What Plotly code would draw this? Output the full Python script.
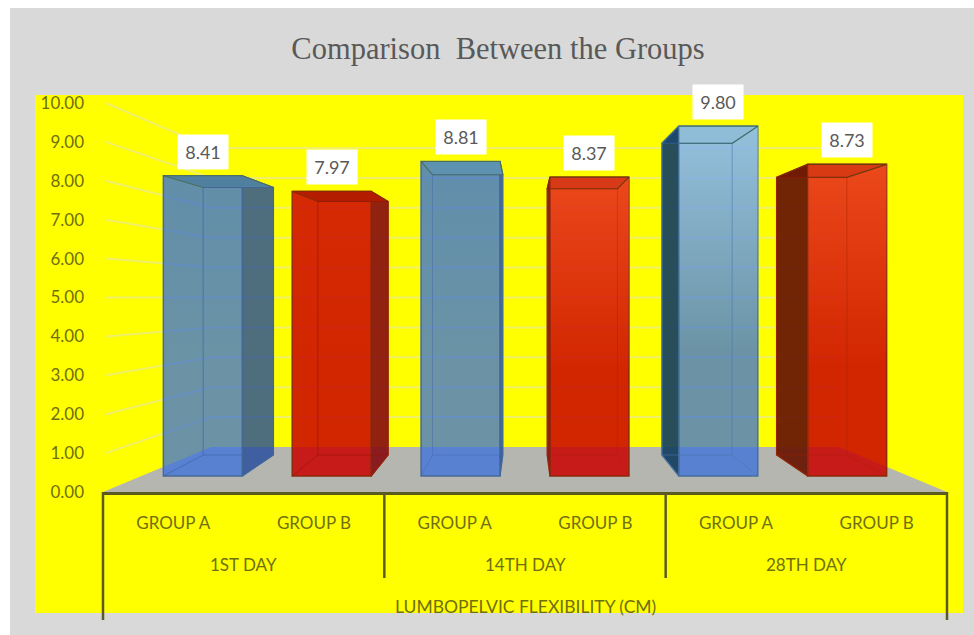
import plotly.graph_objects as go

# Lumbopelvic flexibility (cm) per assessment day and group
DAYS = ["1ST DAY", "14TH DAY", "28TH DAY"]
GROUP_LABELS = ["GROUP A", "GROUP B"]
GROUP_A = [8.41, 8.81, 9.80]
GROUP_B = [7.97, 8.37, 8.73]
TICKS = [0, 1, 2, 3, 4, 5, 6, 7, 8, 9, 10]

W, H = 974, 635
AXIS_TEXT = "#6f6f10"
AXIS_LINE = "#5b5b20"

values = [v for pair in zip(GROUP_A, GROUP_B) for v in pair]
slots = list(range(len(values)))
tick_text = [GROUP_LABELS[i % 2] for i in slots]

# Perspective of the pseudo-3D box, expressed in axis units
CENTRE = 2.5          # x of the vanishing point
FRONT_K = 0.916       # x shrink of the bars' front plane vs. the axis edge
BACK_K = 0.89         # x shrink of a bar's rear plane vs. its front plane
BAR_W = 0.5616
REAR_SCALE, REAR_LIFT = 0.891, 0.588   # rear plane height on the bar axis
FLOOR_X = 0.268       # where the side wall meets the back wall
WALL_SCALE, WALL_LIFT = 0.7686, 1.157  # back wall height on the value axis

# Bar-axis range so that 0 sits on the bars' front base line
Y_PX_BOTTOM, Y_PX_TOP = 492, 103
X_PX_LEFT, X_PX_RIGHT = 103, 947
BAR_BASE_PX, BAR_UNIT_PX = 476, 35.7
bar_range = [(BAR_BASE_PX - Y_PX_BOTTOM) / BAR_UNIT_PX, (BAR_BASE_PX - Y_PX_TOP) / BAR_UNIT_PX]

front_x = [CENTRE + FRONT_K * (i - CENTRE) for i in slots]


def rear(x):
    return CENTRE + BACK_K * (x - CENTRE)


def rear_y(v):
    return REAR_LIFT + REAR_SCALE * v


# Face styling per slot
BLUE = "rgba(57,111,220,0.75)"
RED = "rgba(202,0,0,0.85)"
FRONT = [BLUE, RED, BLUE, RED, BLUE, RED]
SHEEN = ["rgba(60,120,190,0.18)", "rgba(230,60,20,0.15)", "rgba(60,125,195,0.22)",
         "rgba(255,100,50,0.55)", "rgba(175,220,255,0.62)", "rgba(255,100,50,0.55)"]
TOP = ["#4f80a0", "#b41c00", "#5d93b0", "#d83a18", "#8fbcd6", "#d83a14"]
SIDE = ["rgba(34,74,156,0.8)", "rgba(133,10,17,0.9)", "rgba(34,74,156,0.8)",
        "rgba(133,10,17,0.9)", "rgba(22,63,98,0.92)", "rgba(105,25,5,0.95)"]
OUTLINE = ["#466a96", "#8c2a0a", "#466a96", "#8c2a0a", "#466f9c", "#8c2a0a"]
INNER = ["rgba(60,100,170,0.7)", "rgba(150,20,0,0.6)", "rgba(60,100,170,0.4)",
         "rgba(170,30,0,0.35)", "rgba(70,120,170,0.55)", "rgba(170,30,0,0.45)"]
TOP_LINE = ["#4d6f5a", "#8a2a08", "#4d6f5a", "#6e3a10", "#3f6f6a", "#6e3a10"]

fig = go.Figure()

# Floor of the box
fig.add_trace(go.Scatter(
    x=[-0.5, 5.5, 5 - FLOOR_X, FLOOR_X, -0.5], y=[0, 0, WALL_LIFT, WALL_LIFT, 0],
    mode="lines", fill="toself", fillcolor="#b6b6b0", line=dict(width=0),
    hoverinfo="skip", xaxis="x", yaxis="y", showlegend=False))

# Gridlines run along the left wall and then across the back wall
for t in TICKS[1:]:
    wall = WALL_LIFT + WALL_SCALE * t
    fig.add_trace(go.Scatter(
        x=[-0.5 + 0.02, FLOOR_X, 5 - FLOOR_X], y=[t, wall, wall], mode="lines",
        line=dict(color="rgba(225,225,190,0.55)", width=2),
        hoverinfo="skip", xaxis="x", yaxis="y", showlegend=False))

# Front faces of the columns
fig.add_trace(go.Bar(
    x=front_x, y=values, width=BAR_W, marker=dict(color=FRONT, line=dict(color=OUTLINE, width=1.5)),
    xaxis="x", yaxis="y2", showlegend=False, hoverinfo="skip"))

# Remaining faces of every column, derived from its value
for i, (xc, v) in enumerate(zip(front_x, values)):
    xl, xr = xc - BAR_W / 2, xc + BAR_W / 2
    rl, rr = rear(xl), rear(xr)
    rt, rb = rear_y(v), rear_y(0)

    # Lighter sheen fading down the front face
    fig.add_trace(go.Scatter(
        x=[xl, xr, xr, xl, xl], y=[v, v, 0.35 * v, 0.35 * v, v], mode="lines", fill="toself",
        line=dict(width=0),
        fillgradient=dict(type="vertical", start=v, stop=0.35 * v,
                          colorscale=[[0, SHEEN[i]], [1, SHEEN[i].rsplit(",", 1)[0] + ",0)"]]),
        xaxis="x", yaxis="y2", hoverinfo="skip", showlegend=False))

    # Painting order: right side, top, then left side
    faces = []
    if rr > xr:
        faces.append(([xr, rr, rr, xr, xr], [v, rt, rb, 0, v], SIDE[i], OUTLINE[i]))
    faces.append(([xl, xr, rr, rl, xl], [v, v, rt, rt, v], TOP[i], TOP_LINE[i]))
    if rl < xl:
        faces.append(([xl, rl, rl, xl, xl], [v, rt, rb, 0, v], SIDE[i], OUTLINE[i]))
    for fx, fy, fill, line in faces:
        fig.add_trace(go.Scatter(
            x=fx, y=fy, mode="lines", fill="toself", fillcolor=fill,
            line=dict(color=line, width=1.2), xaxis="x", yaxis="y2",
            hoverinfo="skip", showlegend=False))

    # Edges of the rear faces showing through the translucent column
    fig.add_trace(go.Scatter(
        x=[rl, rl, rr, rr, rl, None, rr, xr, None, xl, rl],
        y=[rb, rt, rt, rb, rb, None, rb, 0, None, 0, rb],
        mode="lines", line=dict(color=INNER[i], width=1),
        xaxis="x", yaxis="y2", hoverinfo="skip", showlegend=False))

# Value labels in white boxes over each column
annotations = [
    dict(x=xc, y=v, xref="x", yref="y2", text=f"{v:.2f}", showarrow=False, yshift=24,
         bgcolor="white", width=48, height=32, font=dict(family="Lato", size=18, color="#595959"))
    for xc, v in zip(front_x, values)
]
# Day captions and the axis caption under the group labels
for d, day in enumerate(DAYS):
    annotations.append(dict(x=2 * d + 0.5, y=(H - 564) / H, xref="x", yref="paper", yanchor="middle",
                            text=day, showarrow=False, font=dict(family="Lato", size=17, color=AXIS_TEXT)))
annotations.append(dict(x=CENTRE, y=(H - 606) / H, xref="x", yref="paper", yanchor="middle",
                        text="LUMBOPELVIC FLEXIBILITY (CM)", showarrow=False,
                        font=dict(family="Lato", size=17.5, color=AXIS_TEXT)))

# Chart frame, plot background and the group dividers below the axis
shapes = [
    dict(type="rect", xref="paper", yref="paper", x0=10 / W, x1=1, y0=0, y1=(H - 8) / H,
         fillcolor="#d9d9d9", line=dict(width=0), layer="below"),
    dict(type="rect", xref="paper", yref="paper", x0=35 / W, x1=963 / W, y0=(H - 613) / H, y1=(H - 95) / H,
         fillcolor="#ffff00", line=dict(width=0), layer="below"),
]
x_domain = [X_PX_LEFT / W, X_PX_RIGHT / W]
for edge, bottom in zip([0, 2, 4, 6], [620, 578, 578, 620]):
    # Placed in paper space so the outermost dividers are not clipped by the plot area
    px = x_domain[0] + edge / 6 * (x_domain[1] - x_domain[0])
    shapes.append(dict(type="line", xref="paper", yref="paper", x0=px, x1=px,
                       y0=(H - bottom) / H, y1=(H - Y_PX_BOTTOM) / H,
                       line=dict(color=AXIS_LINE, width=2.5)))

fig.update_layout(
    width=W, height=H, margin=dict(l=0, r=0, t=0, b=0, autoexpand=False),
    paper_bgcolor="white", plot_bgcolor="rgba(0,0,0,0)", barmode="overlay",
    title=dict(text="Comparison\u00a0 Between the Groups", x=498 / W, xanchor="center",
               y=(H - 48) / H, yanchor="middle",
               font=dict(family="Liberation Serif", size=30.5, color="#595959")),
    xaxis=dict(domain=x_domain, range=[-0.5, 5.5], tickvals=slots, ticktext=tick_text,
               showgrid=False, zeroline=False, showline=True, linecolor=AXIS_LINE, linewidth=2.5,
               ticks="", ticklabelstandoff=14, tickfont=dict(family="Lato", size=17, color=AXIS_TEXT)),
    yaxis=dict(domain=[(H - Y_PX_BOTTOM) / H, (H - Y_PX_TOP) / H], range=[0, 10], tickvals=TICKS,
               tickformat=".2f", showgrid=False, zeroline=False, showline=False, ticks="",
               ticklabelstandoff=18, tickfont=dict(family="Lato", size=17, color=AXIS_TEXT)),
    yaxis2=dict(domain=[(H - Y_PX_BOTTOM) / H, (H - Y_PX_TOP) / H], range=bar_range, overlaying="y",
                visible=False, showgrid=False, zeroline=False),
    annotations=annotations, shapes=shapes, showlegend=False,
)

fig.write_html("out.html")
